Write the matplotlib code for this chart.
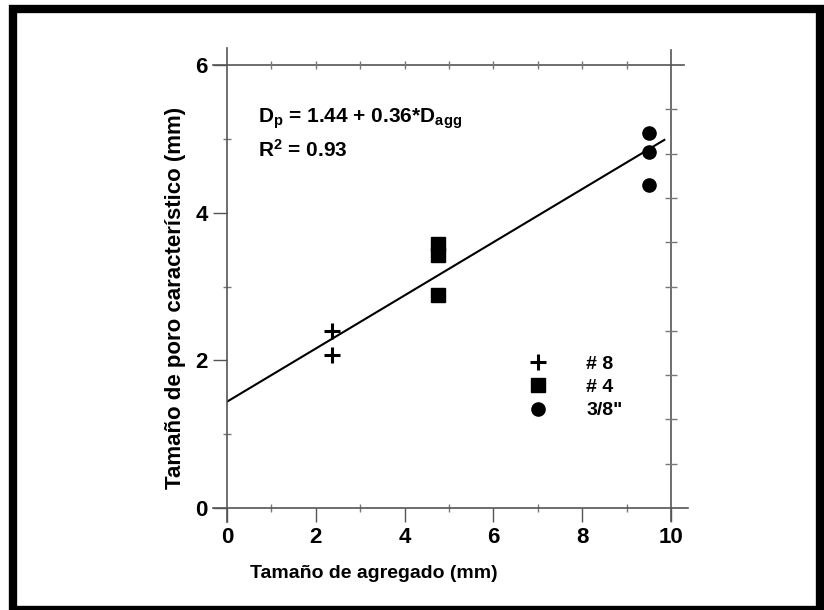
import matplotlib.pyplot as plt
from matplotlib.patches import Rectangle
import numpy as np

plt.rcParams['font.family'] = ['Liberation Sans', 'DejaVu Sans']
plt.rcParams['font.weight'] = 'bold'
plt.rcParams['mathtext.fontset'] = 'custom'
plt.rcParams['mathtext.rm'] = 'Liberation Sans:bold'
plt.rcParams['mathtext.default'] = 'rm'

# datos
x_n8 = [2.36, 2.36]
y_n8 = [2.40, 2.07]
x_n4 = [4.75, 4.75, 4.75]
y_n4 = [3.58, 3.43, 2.89]
x_38 = [9.5, 9.5, 9.5]
y_38 = [5.08, 4.82, 4.38]
etiquetas = ['# 8', '# 4', '3/8"']
a, b = 1.44, 0.36

fig = plt.figure(figsize=(8.24, 6.10), dpi=100)
ax = fig.add_axes([0.2755, 0.1672, 0.5388, 0.7262])

# recta de ajuste
xr = np.array([0, 9.85])
ax.plot(xr, a + b * xr, color='black', lw=1.5, zorder=2)

h1, = ax.plot(x_n8, y_n8, '+', color='black', ms=11, mew=2.2, ls='none')
h2, = ax.plot(x_n4, y_n4, 's', color='black', ms=9.5, ls='none')
h3, = ax.plot(x_38, y_38, 'o', color='black', ms=9.5, ls='none')

ax.set_xlim(0, 10)
ax.set_ylim(0, 6)
ax.set_xticks([0, 2, 4, 6, 8, 10])
ax.set_xticks([1, 3, 5, 7, 9], minor=True)
ax.set_yticks([0, 2, 4, 6])
ax.set_yticks([1, 3, 5], minor=True)
ax.tick_params(which='major', direction='out', length=10, width=1, color='#555555',
               labelsize=16, pad=4)
ax.tick_params(which='minor', direction='inout', length=6, width=1, color='#777777')
for lab in ax.get_xticklabels() + ax.get_yticklabels():
    lab.set_fontweight('bold')

# ejes extendidos en las esquinas
for s in ax.spines.values():
    s.set_color('#555555')
    s.set_linewidth(1.2)
ax.spines['left'].set_bounds(-0.19, 6.23)
ax.spines['right'].set_bounds(-0.17, 6.2)
ax.spines['bottom'].set_bounds(-0.32, 10.38)
ax.spines['top'].set_bounds(-0.32, 10.3)

# marcas en los lados superior y derecho (escala 0-10)
axt = ax.twiny()
axt.set_xlim(0, 10)
axt.set_xticks(range(1, 10))
axt.set_xticklabels([])
axt.tick_params(direction='inout', length=6, width=1, color='#777777')
axr = ax.twinx()
axr.set_ylim(0, 10)
axr.set_yticks(range(1, 10))
axr.set_yticklabels([])
axr.tick_params(direction='inout', length=8, width=1, color='#777777')
for t in (axt, axr):
    for s in t.spines.values():
        s.set_visible(False)

ax.set_xlabel('Tamaño de agregado (mm)', fontsize=14, fontweight='bold', va='center')
ax.xaxis.set_label_coords(0.33, -0.147)
ax.set_ylabel('Tamaño de poro característico (mm)', fontsize=16, fontweight='bold', va='center')
ax.yaxis.set_label_coords(-0.117, 0.474)

ax.text(0.7, 5.27, r'D$_\mathregular{p}$ = 1.44 + 0.36*D$_\mathregular{agg}$',
        fontsize=15, fontweight='bold', va='center')
ax.text(0.7, 4.85, r'R$^\mathregular{2}$ = 0.93', fontsize=15, fontweight='bold', va='center')

ax.legend([h1, h2, h3], etiquetas, loc='upper left', bbox_to_anchor=(0.656, 0.366),
          frameon=False, handlelength=1.0, handletextpad=2.0,
          borderpad=0, labelspacing=0.28, prop={'weight': 'bold', 'size': 14})

# marco negro alrededor de la figura
fig.patches.append(Rectangle((12.5 / 824, 0), (820 - 12.5) / 824, (610 - 9) / 610,
                             transform=fig.transFigure, fill=False, ec='black', lw=6))

fig.savefig('out.png', dpi=100)
